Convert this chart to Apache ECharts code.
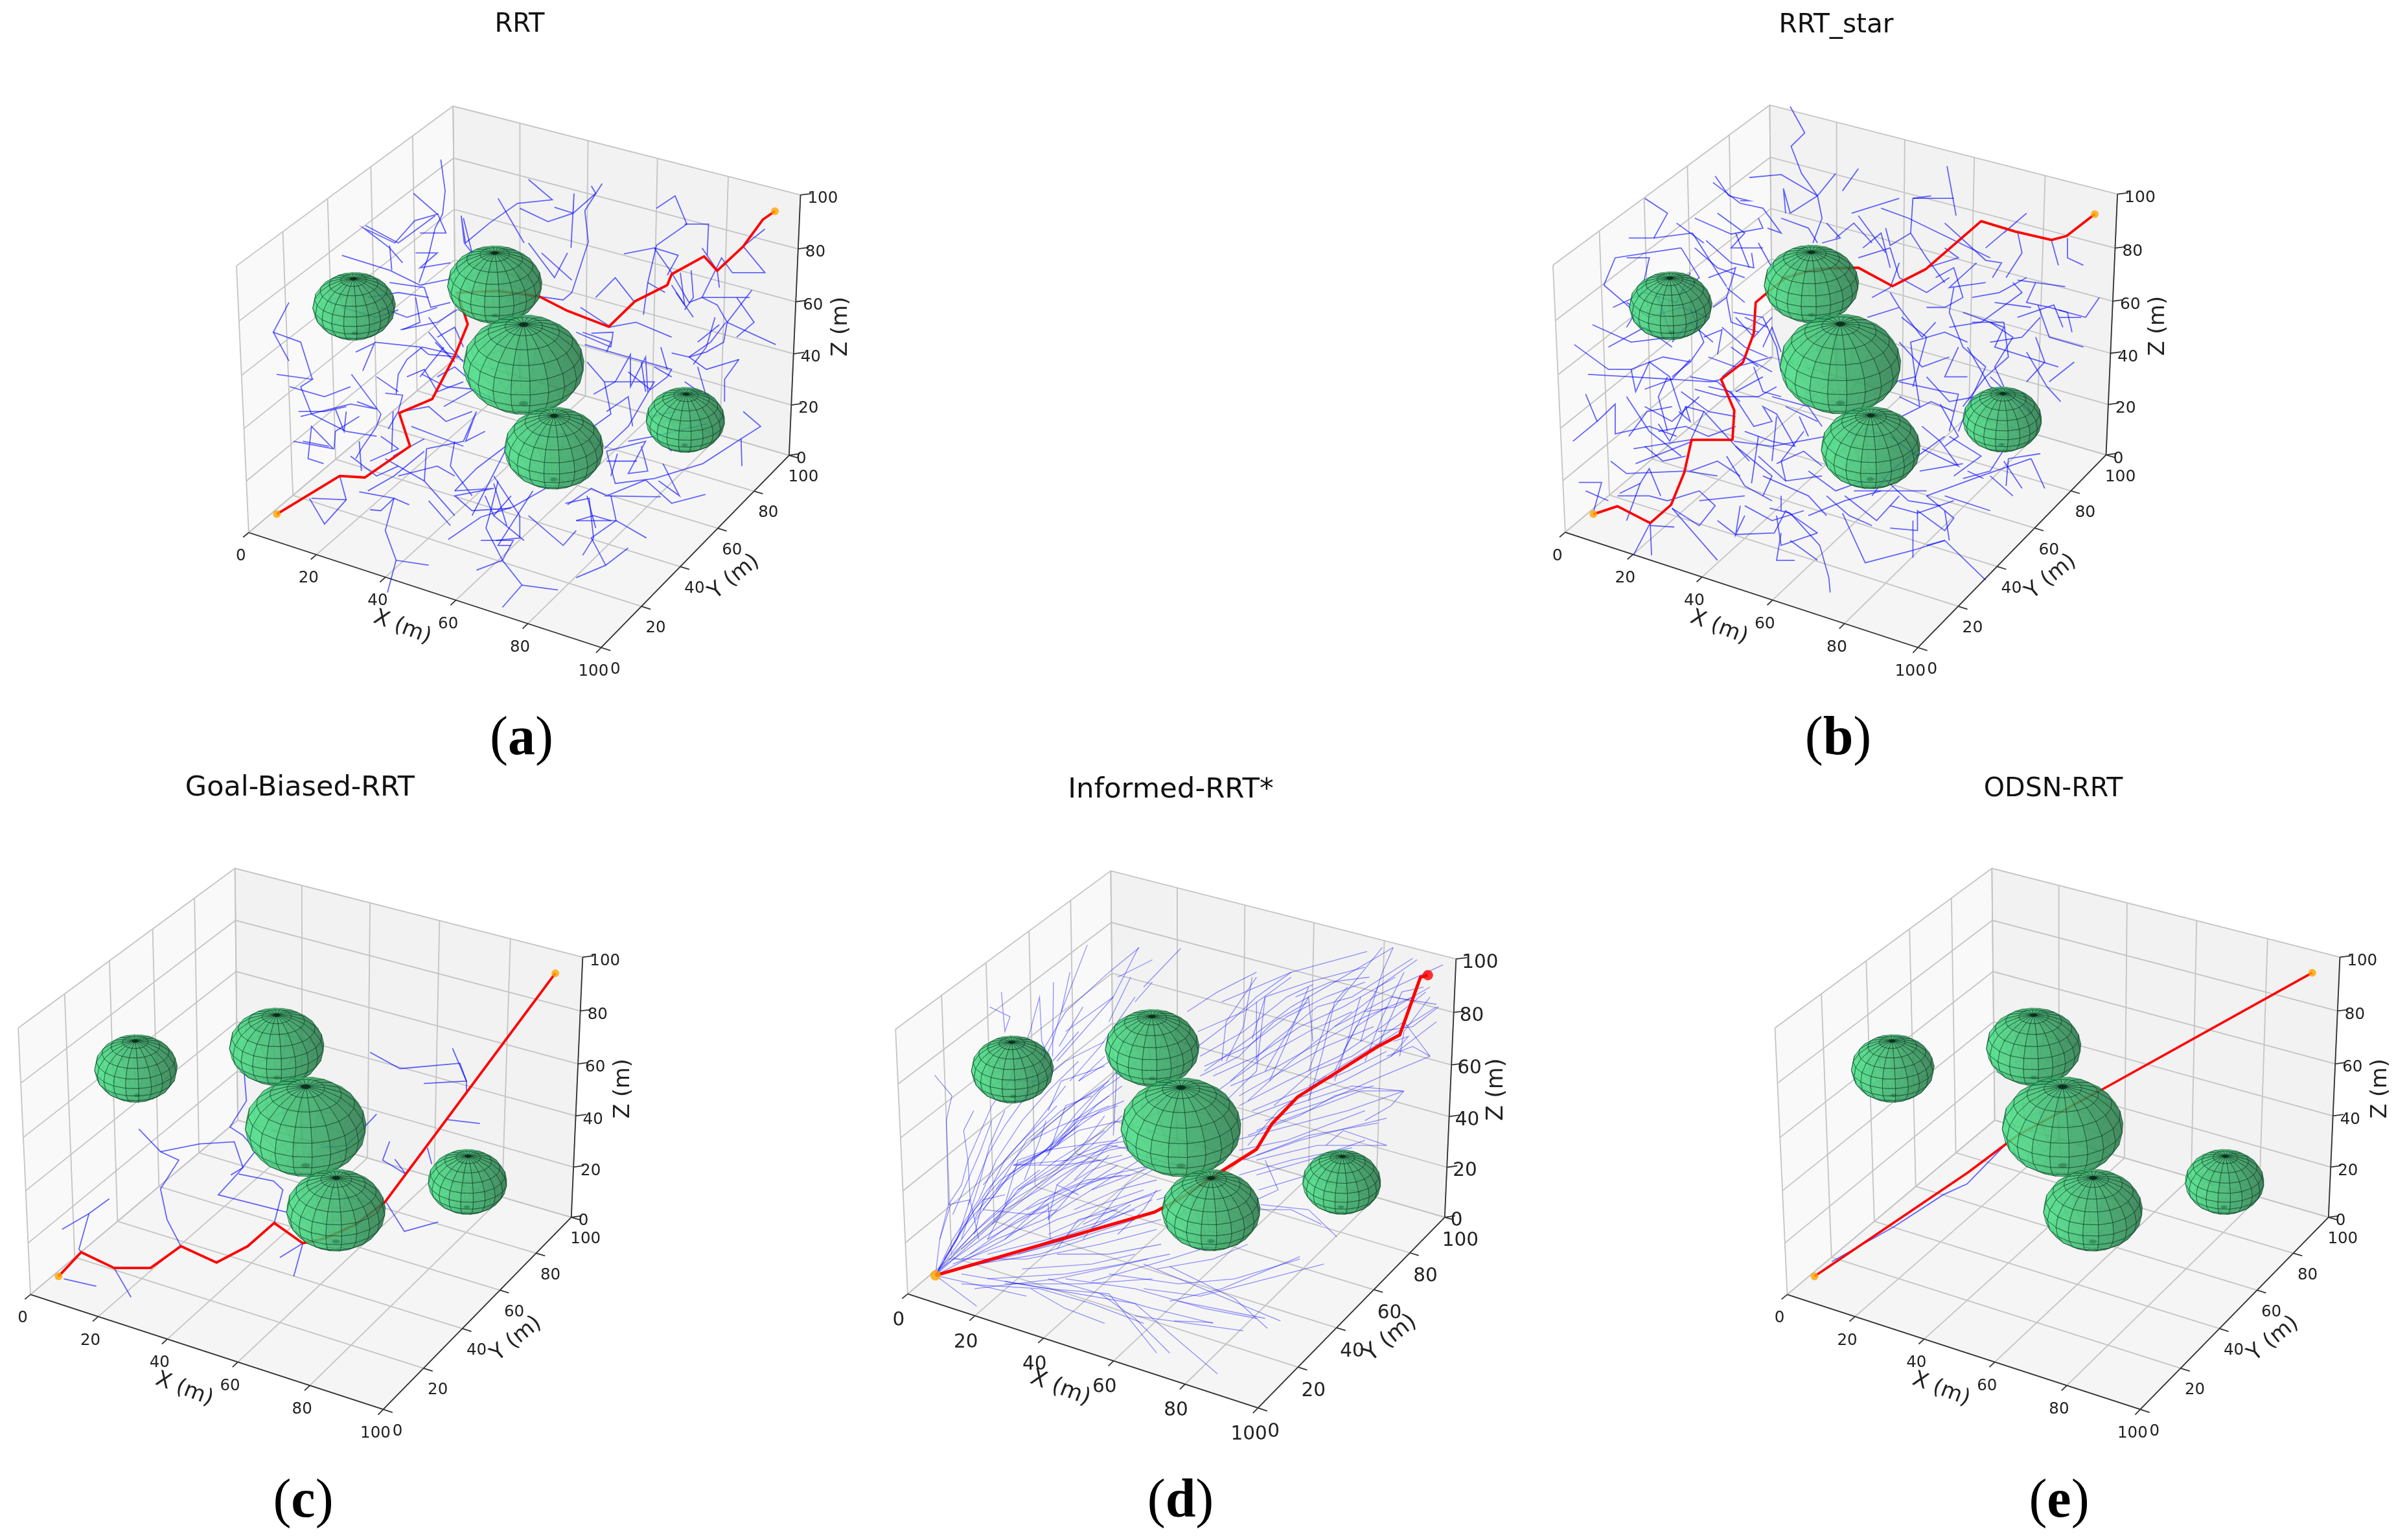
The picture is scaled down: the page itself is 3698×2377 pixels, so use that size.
<!DOCTYPE html>
<html><head><meta charset="utf-8"><style>html,body{margin:0;padding:0;background:#fff}#c{width:3698px;height:2377px;filter:blur(0.6px)}</style>
<script src="https://cdn.jsdelivr.net/npm/echarts@6/dist/echarts.min.js"></script></head><body><div id="c"></div>
<script>
// ---------- data ----------
const TICK_VALUES=[0,20,40,60,80,100];
const SPHERE_X=[50,30,70,20,80];
const SPHERE_Y=[50,70,30,20,80];
const SPHERE_Z=[50,60,40,80,20];
const SPHERE_R=[15,12,12,10,10];
const PATH_A=[[190,1037],[335,960],[393,963],[497,900],[472,833],[548,805],[600,718],[630,654],[610,600],[605,590],[700,587],[795,598],[860,627],[955,659],[1015,608],[1090,575],[1100,553],[1175,517],[1205,546],[1265,497],[1310,443],[1338,426]];
const PATH_B=[[227,1037],[280,1021],[352,1055],[398,1018],[427,953],[443,887],[533,887],[537,828],[508,765],[556,731],[580,672],[584,610],[610,590],[650,560],[720,542],[810,540],[885,577],[958,543],[1080,446],[1155,467],[1235,484],[1268,476],[1330,432]];
const PATH_C=[[135,1035],[187,986],[263,1018],[347,1018],[417,974],[499,1007],[571,974],[632,927],[698,968],[750,958],[820,930],[887,885],[1280,422]];
const PATH_D=[[140,1033],[645,905],[700,880],[800,822],[880,778],[915,727],[975,672],[1160,570],[1210,547],[1258,430],[1275,426]];
const PATH_E=[[158,1035],[530,825],[650,750],[860,655],[1365,421]];
const TREE_A=[[[568,322],[578,385],[572,432],[555,460],[540,515],[518,570]],[[505,390],[560,432],[508,445],[462,490],[390,460],[450,500],[480,530]],[[770,362],[825,403],[745,410],[680,450],[625,490],[615,435],[622,490],[640,510]],[[830,418],[873,430],[875,390],[868,500]],[[940,370],[900,425],[908,488],[870,590],[850,605],[795,598]],[[915,375],[925,390],[873,430],[815,447],[750,420]],[[1065,420],[1108,395],[1135,452],[1065,495],[1045,570],[1035,635]],[[990,512],[1060,500],[1100,550],[1140,610],[1170,600],[1280,600]],[[1130,452],[1185,452],[1182,515]],[[1060,500],[1115,515],[1090,555]],[[1315,462],[1265,497],[1315,550],[1240,550],[1215,520],[1170,600],[1205,615],[1228,650],[1340,695]],[[1285,585],[1228,650],[1220,690],[1180,710],[1140,720],[1100,712]],[[1145,545],[1150,600],[1130,625]],[[925,600],[970,560],[1015,610]],[[955,660],[1018,650],[1100,680]],[[960,700],[965,670],[915,672]],[[960,700],[880,670]],[[1255,725],[1222,765],[1222,810]],[[1140,720],[1180,745],[1255,725]],[[1225,650],[1190,690],[1140,720]],[[900,695],[1000,720],[1100,745],[1090,760],[1045,790],[1040,720],[1005,780],[1005,715],[970,770],[1060,770],[1000,860],[945,905]],[[1075,700],[1090,745]],[[970,770],[945,770],[960,835],[920,860]],[[945,770],[905,730]],[[1265,830],[1305,860],[1260,885],[1172,935],[1060,965],[970,975],[950,910],[970,975]],[[1260,885],[1262,940]],[[1030,900],[1045,950],[1000,955],[1040,890],[950,910]],[[1070,970],[1118,1000],[1080,935]],[[1178,997],[1100,1015],[1040,968]],[[1040,968],[950,1000],[1075,1002]],[[950,1000],[915,985],[860,1018]],[[855,1015],[910,1005],[920,1085],[895,1120]],[[960,1000],[972,1050],[880,1050]],[[972,1050],[1042,1085]],[[972,1050],[915,1085],[948,1140],[880,1165]],[[948,1140],[1000,1105]],[[905,1000],[925,1065]],[[700,970],[680,1040],[672,1065],[710,1130],[755,1180],[710,1225]],[[755,1180],[838,1190]],[[710,1130],[650,1150]],[[660,1090],[735,1090],[710,1130]],[[695,1090],[750,1085],[750,1040],[690,960]],[[585,1088],[660,1043],[735,1022],[810,985]],[[600,990],[650,945],[725,895],[640,1040]],[[600,990],[690,985],[600,1000],[640,1030],[730,1025]],[[535,905],[530,970],[600,1040]],[[535,905],[620,890],[650,830],[625,890],[670,870]],[[530,970],[440,925]],[[380,992],[460,1005],[430,1030],[405,1028]],[[460,1005],[495,1018]],[[460,1005],[440,1070],[465,1130],[540,1140]],[[465,1130],[445,1195]],[[335,960],[350,1008],[300,1057],[265,1005]],[[350,1008],[270,1005]],[[228,890],[320,905],[270,860],[262,925],[298,935]],[[322,905],[325,870],[380,840]],[[245,840],[360,815],[420,825],[375,810]],[[190,755],[272,765],[245,780],[270,835],[350,870],[420,880]],[[272,765],[245,690],[182,670],[218,610]],[[182,670],[218,728]],[[362,755],[430,835],[420,860]],[[420,860],[385,905],[372,925]],[[440,793],[480,797],[470,830],[447,865]],[[465,795],[470,755],[490,725],[525,700],[600,715]],[[372,710],[415,692],[388,748]],[[415,690],[520,700],[540,715],[610,720]],[[455,910],[458,830]],[[458,920],[530,885]],[[340,515],[450,545],[520,575],[605,560]],[[450,495],[455,545]],[[475,665],[560,650],[605,625]],[[540,670],[600,730],[555,690]],[[520,760],[575,700]],[[575,820],[645,785],[580,780],[525,755]],[[645,785],[690,805]],
[[395,455],[470,490],[555,435]],[[510,510],[560,510],[520,540],[590,530]],[[450,570],[530,580],[545,620],[590,610]],[[620,440],[640,510],[600,550]],[[510,600],[520,650],[480,665]],[[540,640],[590,700],[620,730]],[[560,680],[600,660],[620,700]],[[490,760],[530,745],[560,790],[620,770]],[[240,830],[300,830],[350,820]],[[325,825],[345,870],[350,830]],[[700,400],[760,490]],[[770,490],[830,560],[860,510]],[[800,510],[870,565]],[[890,620],[960,660]],[[895,670],[960,690],[950,710]],[[1100,575],[1130,615],[1120,550]],[[1170,500],[1205,545],[1210,580]],[[1045,570],[1085,590]],[[1110,590],[1150,640]],[[1200,640],[1180,700],[1150,735]],[[1210,655],[1160,690]],[[1060,740],[1100,760]],[[1000,750],[1050,785]],[[1030,730],[1040,790]],[[950,830],[1000,800],[1010,860]],[[920,795],[970,770]],[[1000,890],[1060,880],[1180,855]],[[1060,880],[1100,910]],[[950,930],[1020,930]],[[960,960],[975,915]],[[670,1000],[690,1040],[730,1000]],[[690,1040],[760,1090]],[[690,975],[720,1060]],[[780,990],[700,1100],[730,1100]],[[880,1050],[920,1040],[960,1050]],[[600,890],[590,940],[640,1000]],[[530,910],[460,960],[400,990]],[[405,930],[470,905],[430,880]],[[380,890],[385,950]],[[250,890],[310,900]],
[[430,620],[490,640],[560,620]],[[400,600],[470,590],[540,600]],[[520,470],[580,470],[560,430]],[[340,620],[420,640],[470,625]],[[560,760],[600,740],[640,770]],[[480,830],[540,820],[580,850],[640,830]],[[500,860],[560,880],[620,900]],[[420,760],[470,790]],[[220,780],[300,800],[360,780]],[[360,920],[420,960],[470,940]],[[470,960],[560,940],[600,960]],[[540,1010],[590,1060]],[[770,1040],[850,1100],[880,1070]],[[1130,770],[1180,800],[1160,740]],[[1250,600],[1290,650],[1250,680]],[[1050,840],[1110,830]]];
const TREE_B=[[[660,215],[692,268],[662,295],[685,350],[720,395],[760,350]],[[720,395],[660,430],[645,380],[650,430]],[[570,358],[640,352],[720,395]],[[720,395],[730,440],[710,490]],[[810,340],[775,385]],[[490,368],[550,410],[600,420],[640,470],[610,460]],[[495,355],[525,395],[570,405],[550,405]],[[450,440],[530,472],[600,460],[590,440]],[[340,400],[390,430],[360,480],[305,480]],[[360,480],[445,470],[520,578]],[[475,485],[530,530],[580,540],[575,510]],[[250,575],[275,520],[345,510],[420,500]],[[250,575],[320,630],[300,660]],[[270,620],[340,590],[410,610],[440,550]],[[225,655],[310,690],[400,680],[370,600]],[[185,695],[260,745],[310,745],[380,720],[440,730],[400,760]],[[215,755],[310,760],[400,765],[440,725]],[[310,745],[320,790],[350,730],[395,760],[420,830]],[[340,785],[400,765],[485,770],[510,765]],[[210,795],[235,850],[182,890]],[[235,850],[275,815],[275,875],[350,860],[410,880]],[[315,905],[440,887]],[[265,930],[300,955],[430,950],[500,960]],[[320,935],[445,890]],[[370,855],[395,890],[430,820],[470,830],[440,890]],[[415,830],[440,850],[430,820]],[[195,973],[245,973],[228,1030]],[[285,995],[330,975],[350,945],[375,1000]],[[280,1000],[350,1000],[390,1010],[460,990],[495,1020],[460,1060],[400,1025]],[[330,975],[300,1050]],[[352,1055],[315,1120]],[[352,1055],[355,1120]],[[352,1060],[405,1063]],[[400,1025],[500,1130]],[[500,1050],[540,1078],[625,1075],[650,1030],[720,1075]],[[550,1020],[540,1078],[560,1040]],[[615,1025],[660,1035],[725,1100],[745,1165],[748,1195]],[[640,1075],[630,1130],[670,1130]],[[630,1040],[640,1100],[720,1075]],[[775,1035],[825,1135],[930,1110],[1000,1090],[1090,1170]],[[880,1065],[940,1070],[940,1030],[1000,1070],[1020,1045],[960,1000]],[[930,1050],[930,1125]],[[960,1100],[1000,1090]],[[1000,1000],[1100,1030]],[[780,1000],[850,1050],[900,1000]],[[960,1000],[1080,960],[1190,925]],[[1210,915],[1140,925],[1135,980]],[[1190,925],[1220,985]],[[1130,930],[1170,985]],[[1050,950],[1085,965]],[[800,990],[870,990],[960,990]],[[950,905],[1030,940],[990,890],[950,860]],[[990,815],[1030,880],[1000,900]],[[880,880],[940,920],[1000,880]],[[900,770],[1000,790],[1030,795],[1010,870]],[[890,770],[935,760],[945,820],[900,800]],[[935,760],[925,690],[1000,670],[1050,690]],[[1020,580],[1010,630],[1040,700],[1090,740],[1060,800],[1030,870]],[[1040,630],[1130,660],[1110,700],[1180,720],[1250,740]],[[1130,650],[1140,720],[1090,760]],[[1060,650],[1130,650]],[[1150,570],[1170,590],[1080,650]],[[1230,620],[1270,630],[1280,670]],[[1205,615],[1230,680],[1305,700]],[[1340,600],[1310,640],[1250,625]],[[1180,710],[1225,780],[1255,810]],[[1285,730],[1230,770]],[[1160,565],[1265,578]],[[1100,760],[1190,835],[1170,790]],[[1000,450],[1090,525],[1125,530],[1105,560]],[[1005,335],[1015,385],[1025,435]],[[970,395],[930,400],[925,470],[960,520],[1000,570]],[[930,400],[1020,400]],[[925,470],[880,495],[870,460]],[[795,430],[900,400]],[[860,420],[920,440],[1100,520]],[[1130,470],[1180,430],[1090,500]],[[1270,480],[1270,520],[1305,535]],[[1235,485],[1250,535]],[[1160,467],[1170,510],[1135,560]],[[980,560],[1020,540],[1040,600],[1000,620],[960,620]],[[880,590],[900,620],[950,680],[980,650]],[[900,620],[830,640]],[[1080,650],[1010,660]],[[535,630],[600,640],[630,700],[640,750]],[[490,620],[520,600],[530,650],[590,670]],[[560,640],[610,660]],[[520,580],[560,610]],[[470,680],[510,665],[500,715]],[[450,785],[510,800],[590,800],[630,780]],[[480,780],[530,790],[580,860],[620,850],[600,820],[630,835],[670,900],[620,890],[560,870]],[[590,880],[575,975]],[[590,920],[650,970],[730,960]],[[620,930],[630,840]],[[630,935],[690,910],[730,940]],[[680,840],[700,880]],[[536,890],[620,900],[740,880]],[[510,760],[560,720],[620,750]],[[540,790],[600,760]],
[[300,610],[350,640],[420,620],[480,640]],[[260,700],[340,660],[400,700]],[[440,620],[470,690],[440,730]],[[390,760],[370,800],[390,870]],[[305,880],[345,830],[400,820]],[[370,870],[430,860],[480,880],[540,860]],[[440,760],[500,770],[550,810]],[[470,830],[520,880],[570,930]],[[540,900],[580,930],[620,960],[600,1000]],[[600,960],[700,1000],[740,1040]],[[640,1000],[640,1030]],[[740,1000],[790,1040],[840,1060]],[[700,1040],[780,1010],[860,990]],[[660,1090],[720,1130]],[[840,1000],[880,950],[945,905]],[[945,950],[1040,935]],[[1020,1010],[940,1035],[880,1020]],[[1000,1030],[1010,1090]],[[1100,960],[1150,1000]],[[1135,900],[1100,950],[1040,965]],[[1010,880],[1080,920],[1020,960]],[[905,640],[960,680],[930,780]],[[900,690],[950,740],[1010,720]],[[905,840],[970,810],[1020,830]],[[1030,700],[1000,760],[1050,760]],[[1100,650],[1150,680],[1110,740],[1130,780]],[[1200,680],[1220,730],[1180,770]],[[1090,760],[1040,820]],[[1070,530],[1010,580],[1090,570]],[[820,500],[860,470],[880,540]],[[810,520],[880,500],[900,560]],[[840,600],[880,580],[900,530]],[[960,540],[1030,520],[1000,500]],[[1160,640],[1240,615],[1260,660]],[[1250,640],[1300,640]],[[1110,610],[1190,620]],[[1200,570],[1180,610],[1230,620]],[[500,430],[560,470],[530,500],[600,500]],[[540,470],[570,540]],[[410,450],[470,490]],[[620,540],[590,490]],[[480,560],[540,540],[520,600]],[[300,520],[350,520],[330,600]],[[420,500],[460,560],[420,590]],[[740,450],[770,480],[730,490]],[[640,440],[700,460],[720,490]],[[810,435],[870,510]],[[510,660],[560,700],[610,720]],[[530,700],[590,740]],[[400,690],[440,650],[490,690]],[[600,700],[620,660],[640,710]],[[580,740],[600,790],[640,800]],[[650,820],[720,850]],[[690,870],[640,930],[650,970]],[[440,950],[500,930],[550,960]],[[460,1010],[560,1000]],[[210,990],[260,1010]],
[[540,640],[580,680],[620,640]],[[480,720],[540,740],[620,720]],[[420,790],[480,830],[540,840]],[[340,820],[400,850],[460,800]],[[300,800],[350,870],[420,920]],[[520,920],[560,980],[620,1010]],[[700,950],[760,990],[820,970]],[[860,960],[920,1010],[990,1020]],[[1050,700],[1100,780],[1150,800]],[[960,760],[1010,810],[1070,800]],[[900,560],[960,590],[1010,560]],[[1100,690],[1170,680],[1210,640]],[[1060,600],[1120,590],[1180,560]],[[760,480],[800,450],[840,490]],[[450,500],[500,540],[560,560]],[[620,800],[700,820],[730,860]],[[340,900],[380,930],[430,920]],[[560,1020],[620,1050],[690,1030]]];
const TREE_C=[[[147,1040],[222,1055]],[[252,878],[205,908],[143,940]],[[205,908],[182,980],[187,986]],[[263,1018],[302,1077]],[[320,737],[370,783],[412,800],[370,858],[385,920],[417,974]],[[370,783],[460,767],[540,763],[560,815],[532,830]],[[563,625],[568,680],[530,733],[560,750],[590,780],[550,825],[503,870],[660,905]],[[550,828],[630,842],[652,860],[632,927]],[[645,997],[698,968],[677,1035]],[[853,582],[922,615],[1060,604],[1075,640],[977,645]],[[1043,574],[1075,640],[1075,660]],[[1030,718],[1106,726]],[[898,762],[882,800],[935,828]],[[910,798],[935,828]],[[868,707],[800,770],[740,775]],[[985,775],[995,808]],[[890,885],[932,944],[1010,925]]];
const TREE_D=[[[140,1033],[150,960],[170,890],[165,720],[178,670],[138,628]],[[140,1033],[190,960],[220,880],[215,800],[205,740],[228,700]],[[170,890],[200,850],[215,800],[270,690],[310,640],[358,540],[380,470],[385,560]],[[292,460],[300,540],[312,510],[265,490]],[[215,890],[260,790],[300,730],[365,650],[410,560],[430,500],[490,365]],[[410,590],[412,440]],[[385,560],[400,590]],[[430,500],[450,420]],[[380,590],[440,500],[540,420],[610,370]],[[440,540],[550,470],[608,370]],[[560,430],[640,395]],[[620,450],[705,372]],[[140,1033],[250,900],[330,810],[420,770],[520,660],[600,610]],[[250,900],[310,830],[395,780],[470,700],[560,620]],[[140,1033],[270,930],[400,840],[500,770],[570,710]],[[270,930],[330,860],[420,800],[530,740]],[[140,1033],[300,960],[430,880],[560,810]],[[300,960],[410,870],[500,820],[600,790]],[[200,1000],[280,960],[390,920],[500,860],[610,800]],[[400,920],[480,840],[540,790]],[[320,810],[450,800],[560,770]],[[330,990],[480,950],[590,890]],[[380,970],[520,930],[640,880]],[[260,960],[400,890],[405,960]],[[170,1000],[350,1000],[520,970],[650,940]],[[420,990],[540,990],[660,970]],[[200,1030],[400,1060],[540,1070],[650,1190]],[[140,1033],[350,1075]],[[140,1033],[235,1095]],[[300,1045],[600,1090],[790,1232]],[[400,1040],[640,1100],[780,1130]],[[600,1115],[850,1145]],[[680,1015],[830,1080],[905,1140]],[[620,1010],[935,1125]],[[980,995],[800,1060],[680,1085]],[[1035,1010],[750,1075],[620,1060]],[[690,1125],[780,1128]],[[500,1045],[680,1000],[790,970]],[[230,1060],[420,1040],[630,1000]],[[720,500],[790,460],[880,420]],[[800,480],[960,420],[1135,378]],[[870,555],[900,470],[1000,440],[1130,410]],[[745,540],[850,500],[960,430]],[[760,620],[870,550],[960,490],[1060,440],[1195,370]],[[820,640],[920,560],[1020,490],[1100,470],[1240,392]],[[860,680],[960,600],[1060,530],[1150,470],[1310,405]],[[1060,530],[1190,470],[1295,485]],[[920,690],[1010,620],[1100,590],[1220,520],[1280,590]],[[1000,650],[1170,560],[1295,490]],[[960,690],[1100,650],[1215,660]],[[900,720],[1040,680],[1170,630],[1280,590]],[[830,760],[960,730],[1090,700],[1220,660]],[[880,790],[1000,750],[1160,725]],[[880,800],[1020,770],[1180,770]],[[840,830],[960,800],[1100,775]],[[880,880],[930,860],[900,800]],[[890,890],[1000,900],[1065,955]],[[800,600],[810,520],[880,430]],[[810,680],[880,620],[900,470]],[[900,620],[1000,470],[1010,560]],[[1000,620],[1050,500],[1170,370]],[[1120,560],[1170,420],[1195,370]],[[1160,570],[1215,460],[1265,450]],[[1080,580],[1160,450],[1250,395]],[[1190,590],[1230,550],[1195,560]],[[1280,470],[1220,540],[1210,590]],[[470,640],[560,590],[550,750]],[[300,640],[385,640],[440,600],[530,560]],[[360,760],[430,730],[540,690]],[[395,785],[470,740],[570,720]],[[320,810],[400,780],[470,730]],[[250,850],[330,770],[420,690]],[[260,960],[320,860],[380,820]],[[180,910],[240,790],[270,720]],[[150,960],[175,890]],[[230,950],[250,880],[300,870]],[[250,900],[360,910],[420,900]],[[400,920],[420,850],[470,870]],[[420,980],[470,920],[560,900]],[[480,960],[580,850],[640,820]],[[560,950],[620,900],[650,860]],[[650,880],[760,850]],[[860,770],[930,700],[1040,630]],[[1060,620],[1110,530],[1180,490]],
[[140,1033],[180,960],[240,880],[280,800],[340,720],[400,660],[470,600]],[[140,1033],[200,940],[260,860],[340,780],[400,730],[470,680],[540,640]],[[160,1000],[230,900],[290,840],[360,800],[440,750],[520,700],[575,680]],[[180,990],[260,920],[350,850],[440,800],[520,770],[590,760]],[[200,980],[300,900],[380,860],[470,810],[570,790]],[[220,990],[330,920],[440,870],[540,830],[640,810]],[[180,1010],[300,970],[420,920],[520,890],[620,860]],[[200,1020],[330,990],[460,960],[600,920]],[[240,1010],[380,990],[520,950],[660,920]],[[260,990],[400,960],[500,930],[600,900]],[[300,890],[330,800],[395,780]],[[345,840],[380,760],[395,720]],[[400,790],[440,690],[500,670]],[[420,770],[510,690],[570,650]],[[330,860],[420,820],[480,770],[530,710]],[[460,840],[540,770],[600,780]],[[395,780],[470,770],[560,760]],[[320,810],[430,810],[520,800]],[[500,860],[620,820],[660,800]],[[580,780],[650,800],[700,810]],[[240,960],[220,880],[170,890]],[[400,700],[430,640],[530,610]],[[450,640],[520,570],[600,470]],[[420,600],[500,520],[550,470]],[[470,640],[530,590]],[[540,520],[590,430]],[[600,480],[640,440]],[[410,600],[470,540]],[[425,570],[480,490]],[[745,570],[820,520],[880,470],[960,420]],[[750,590],[850,540],[950,470],[1010,445]],[[760,610],[860,570],[950,510],[1040,470],[1130,440]],[[780,630],[880,590],[980,530],[1080,490],[1200,430]],[[820,650],[930,610],[1030,560],[1130,510],[1240,470]],[[840,690],[950,640],[1070,590],[1170,530],[1270,460]],[[840,720],[960,680],[1080,640],[1190,590],[1295,520]],[[880,740],[1000,700],[1120,660],[1218,660]],[[850,800],[980,760],[1110,730],[1180,715]],[[880,830],[1000,800],[1130,760]],[[885,860],[1000,830]],[[880,600],[880,480]],[[810,600],[850,530],[870,430]],[[910,640],[950,560],[1000,450]],[[1000,680],[1030,590],[1060,480],[1090,450]],[[1060,640],[1090,560],[1120,470]],[[1130,600],[1170,510],[1220,420]],[[970,470],[1050,440],[1140,430]],[[1130,500],[1200,490],[1280,450]],[[1160,540],[1240,530],[1300,490]],[[1180,590],[1240,570],[1280,590]],[[1130,720],[1190,690],[1220,660]],[[1040,770],[1080,740],[1180,770]],[[300,1050],[480,1050],[640,1040]],[[200,1050],[380,1060],[500,1090],[620,1130]],[[260,1040],[440,1030],[570,1010],[680,990]],[[340,1020],[500,1010],[600,990]],[[440,1040],[600,1060],[760,1100],[880,1120]],[[540,1030],[700,1050],[830,1040],[980,1000]],[[520,1070],[600,1120],[680,1190]],[[360,1060],[440,1100],[530,1130]],[[650,1020],[780,1000],[860,970]],[[700,1085],[900,1120]],[[880,900],[960,900],[1030,930]],
[[140,1033],[210,930],[290,850],[380,790],[470,720],[560,690]],[[140,1033],[230,945],[320,880],[430,820],[540,780],[600,770]],[[150,1020],[270,945],[380,880],[490,840],[590,830]],[[230,920],[300,800],[360,740],[440,650]],[[280,860],[350,760],[430,700],[530,650]],[[200,960],[240,850],[265,770],[300,700]],[[380,810],[460,720],[540,670]],[[420,850],[500,790],[590,740]],[[350,900],[470,850],[570,830]],[[460,900],[560,860],[650,840]],[[400,950],[530,900],[640,870]],[[480,930],[600,880],[660,860]],[[750,630],[840,590],[920,520],[1000,480]],[[790,660],[900,590],[1000,540],[1100,500]],[[840,670],[940,620],[1040,570],[1150,530]],[[870,700],[980,660],[1090,620],[1180,580]],[[860,750],[980,710],[1060,670],[1150,650]],[[840,780],[950,760],[1040,730],[1130,700]]];
const TREE_E=[[[200,1005],[350,935],[470,870],[528,848],[590,795],[625,765]]];

const PANELS=[
 {name:'RRT',cap:'a',crop:[300,0,1050,1200],O:[125,1072],A:[940,1306],FR:[1377,915],TR:[1397,392],BT:[600,214],LT:[97,535],tick:24.5,titleX:797,titleY:38,titleFont:40,capX:800,capY:1140,path:PATH_A,tree:TREE_A,tw:1.8,ta:0.6,pw:3.8,ms:12,goal:'#ffa500'},
 {name:'RRT_star',cap:'b',crop:[2300,0,1100,1200],O:[163,1072],A:[943,1306],FR:[1360,915],TR:[1380,392],BT:[618,212],LT:[138,535],tick:25,titleX:2829,titleY:38,titleFont:40.5,capX:2832,capY:1140,path:PATH_B,tree:TREE_B,tw:1.8,ta:0.6,pw:3.8,ms:12,goal:'#ffa500'},
 {name:'Goal-Biased-RRT',cap:'c',crop:[0,1180,1050,1197],O:[68,1070],A:[885,1304],FR:[1320,912],TR:[1343,390],BT:[545,210],LT:[42,530],tick:24.5,titleX:458,titleY:1216,titleFont:43,capX:463,capY:2317,path:PATH_C,tree:TREE_C,tw:1.8,ta:0.6,pw:3.8,ms:12,goal:'#ffa500'},
 {name:'Informed-RRT*',cap:'d',crop:[1350,1180,1050,1197],O:[75,1068],A:[882,1301],FR:[1312,912],TR:[1340,392],BT:[545,215],LT:[48,533],tick:29.5,titleX:1802,titleY:1219,titleFont:43.5,capX:1817,capY:2317,path:PATH_D,tree:TREE_D,tw:1.3,ta:0.42,pw:5,ms:16,goal:'#ff0000',big:true},
 {name:'ODSN-RRT',cap:'e',crop:[2700,1180,998,1197],O:[90,1070],A:[945,1304],FR:[1405,912],TR:[1432,390],BT:[590,210],LT:[62,530],tick:24.5,titleX:3164,titleY:1217,titleFont:41,capX:3173,capY:2317,path:PATH_E,tree:TREE_E,tw:1.8,ta:0.6,pw:3.6,ms:12,goal:'#ffa500'}
];
const PLANE=1568;
const FONT='"DejaVu Sans"';

// ---------- view geometry (elev 30, azim -60, dist 10, box 4:4:3) ----------
const BOX=[1.14287,1.14287,0.85716];
function camera(x,y,z){
  const a=(x/100-.5)*BOX[0],b=(y/100-.5)*BOX[1],c=(z/100-.5)*BOX[2];
  const xv=.8660254*a+.5*b, yv=-.25*a+.4330127*b+.8660254*c, w=.4330127*a-.75*b+.5*c;
  return [xv/(10-w),yv/(10-w),w];
}
function mapper(p){
  const lt=camera(0,0,100),tr=camera(100,100,100),a=camera(100,0,0),bt=camera(0,100,100);
  const ax=(p.TR[0]-p.LT[0])/(tr[0]-lt[0]),bx=p.LT[0]-ax*lt[0];
  const ay=(p.A[1]-p.BT[1])/(a[1]-bt[1]),by=p.BT[1]-ay*bt[1];
  return (x,y,z)=>{const c=camera(x,y,z);return [ax*c[0]+bx,ay*c[1]+by];};
}
// ---------- sphere mesh ----------
const LON=20, LAT=[0,4.3,18,36,54,72,90,108,126,144,162,175.7,180];
function sphereFaces(toPlot){
  const order=SPHERE_X.map((_,i)=>i).sort((i,j)=>camera(SPHERE_X[i],SPHERE_Y[i],SPHERE_Z[i])[2]-camera(SPHERE_X[j],SPHERE_Y[j],SPHERE_Z[j])[2]);
  const faces=[];
  order.forEach(s=>{
    const list=[];
    const P=(t,f)=>{const T=t*Math.PI/180,F=f*2*Math.PI/LON;return [Math.sin(T)*Math.cos(F),Math.sin(T)*Math.sin(F),Math.cos(T)];};
    for(let i=0;i<LAT.length-1;i++)for(let j=0;j<LON;j++){
      const q=[P(LAT[i],j),P(LAT[i],j+1),P(LAT[i+1],j+1),P(LAT[i+1],j)];
      const n=[0,1,2].map(k=>q.reduce((m,v)=>m+v[k],0)/4);
      const l=Math.hypot(n[0],n[1],n[2]);
      const dot=(-.7*n[0]-.7*n[1]+.1*n[2])/l;
      const k=.5+.5*(dot+1)/2;
      const cap=(i===0||i===LAT.length-2);
      const pts=q.map(v=>toPlot(SPHERE_X[s]+SPHERE_R[s]*v[0],SPHERE_Y[s]+SPHERE_R[s]*v[1],SPHERE_Z[s]+SPHERE_R[s]*v[2]));
      const front=(.4330127*n[0]*BOX[0]-.75*n[1]*BOX[1]+.5*n[2]*BOX[2])>0;
      const w=camera(SPHERE_X[s]+SPHERE_R[s]*n[0],SPHERE_Y[s]+SPHERE_R[s]*n[1],SPHERE_Z[s]+SPHERE_R[s]*n[2])[2];
      list.push({pts,w,stroke:front?'rgba(10,50,32,0.5)':'rgba(10,70,45,0.14)',
        fill:cap?'rgba(8,30,20,0.85)':`rgba(${Math.round(72*k)},${Math.round(228*k)},${Math.round(135*k)},0.62)`});
    }
    list.sort((a,b)=>a.w-b.w);
    faces.push(...list);
  });
  return faces;
}
// ---------- options ----------
const opt={animation:false,backgroundColor:'#fff',title:[],grid:[],xAxis:[],yAxis:[],series:[]};
function customOver(g,n,render,z){return {type:'custom',xAxisIndex:g,yAxisIndex:g,silent:true,clip:false,z,
  data:Array.from({length:n},()=>[0,0]),encode:{x:0,y:1},renderItem:render};}
PANELS.forEach((p,g)=>{
  const toPlot=mapper(p);
  opt.grid.push({left:p.crop[0],top:p.crop[1],width:p.crop[2],height:p.crop[3],containLabel:false,show:false});
  opt.xAxis.push({type:'value',gridIndex:g,min:0,max:PLANE,show:false});
  opt.yAxis.push({type:'value',gridIndex:g,min:0,max:PLANE,inverse:true,show:false});
  opt.title.push({text:p.name,left:p.titleX,top:p.titleY-p.titleFont*.6,textAlign:'center',textStyle:{fontFamily:FONT,fontWeight:'normal',fontSize:p.titleFont,color:'#111'}});
  opt.title.push({text:'{n|(}{b|'+p.cap+'}{n|)}',left:p.capX,top:p.capY-45,textAlign:'center',
    textStyle:{rich:{n:{fontFamily:'"Liberation Serif"',fontSize:84,color:'#000',fontWeight:'normal'},b:{fontFamily:'"Liberation Serif"',fontSize:84,fontWeight:'bold',color:'#000'}}}});
  // panes
  const panes=[{c:'#f9f9f9',q:[[0,0,0],[0,100,0],[0,100,100],[0,0,100]]},{c:'#f2f2f2',q:[[0,100,0],[100,100,0],[100,100,100],[0,100,100]]},{c:'#f5f5f5',q:[[0,0,0],[100,0,0],[100,100,0],[0,100,0]]}];
  opt.series.push(customOver(g,panes.length,(params,api)=>{const f=panes[params.dataIndex];
    return {type:'polygon',shape:{points:f.q.map(v=>api.coord(toPlot(v[0],v[1],v[2])))},style:{fill:f.c}};},1));
  // gridlines
  const gl=[];
  TICK_VALUES.forEach(t=>{gl.push([[t,0,0],[t,100,0],[t,100,100]]);gl.push([[0,t,100],[0,t,0],[100,t,0]]);gl.push([[0,0,t],[0,100,t],[100,100,t]]);});
  opt.series.push(customOver(g,gl.length,(params,api)=>({type:'polyline',shape:{points:gl[params.dataIndex].map(v=>api.coord(toPlot(v[0],v[1],v[2])))},style:{stroke:'#c4c4c4',lineWidth:1.8,fill:null}}),2));
  // axes and ticks
  const al=[[[0,0,0],[100,0,0]],[[100,0,0],[100,100,0]],[[100,100,0],[100,100,100]]];
  TICK_VALUES.forEach(t=>{al.push([[t,0,0],[t,-2.5,0]]);al.push([[100,t,0],[102.5,t,0]]);al.push([[100,100,t],[102,102,t]]);});
  opt.series.push(customOver(g,al.length,(params,api)=>({type:'polyline',shape:{points:al[params.dataIndex].map(v=>api.coord(toPlot(v[0],v[1],v[2])))},style:{stroke:'#333',lineWidth:1.8,fill:null}}),3));
  // tick labels and axis names
  const txt=[];
  const off=p.big?{x:[-14,41],y:[24,37],z:[9,6]}:{x:[-12,37],y:[22,34],z:[11,6]};
  TICK_VALUES.forEach(t=>{
    txt.push({s:String(t),at:[t,0,0],o:off.x,a:'center',f:p.tick});
    txt.push({s:String(t),at:[100,t,0],o:off.y,a:'center',f:p.tick});
    txt.push({s:String(t),at:[100,100,t],o:off.z,a:'left',f:p.tick});
  });
  const nameFont=p.big?35:33.5;
  txt.push({s:'X (m)',at:[50,0,0],o:[-28,60],a:'center',f:nameFont,r:-21});
  txt.push({s:'Y (m)',at:[100,50,0],o:[54,46],a:'center',f:nameFont,r:39});
  txt.push({s:'Z (m)',at:[100,100,50],o:[72,-2],a:'center',f:nameFont,r:90});
  opt.series.push(customOver(g,txt.length,(params,api)=>{const d=txt[params.dataIndex],c=api.coord(toPlot(d.at[0],d.at[1],d.at[2]));
    return {type:'text',x:c[0]+d.o[0],y:c[1]+d.o[1],rotation:(d.r||0)*Math.PI/180,
      style:{text:d.s,fontFamily:'DejaVu Sans',fontSize:d.f,fill:'#222',align:d.a,verticalAlign:'middle'}};},9));
  // tree edges
  opt.series.push(customOver(g,p.tree.length,(params,api)=>({type:'polyline',shape:{points:p.tree[params.dataIndex].map(v=>api.coord(v))},style:{stroke:'rgba(0,0,255,'+p.ta+')',lineWidth:p.tw,fill:null}}),4));
  // best path
  opt.series.push({type:'line',xAxisIndex:g,yAxisIndex:g,data:p.path,showSymbol:false,smooth:false,silent:true,z:5,clip:false,lineStyle:{color:'#ff0000',width:p.pw,join:'round'}});
  const last=p.path[p.path.length-1];
  opt.series.push({type:'scatter',xAxisIndex:g,yAxisIndex:g,data:[p.path[0]],symbolSize:p.ms,silent:true,z:6,itemStyle:{color:'#ffa500'}});
  opt.series.push({type:'scatter',xAxisIndex:g,yAxisIndex:g,data:[last],symbolSize:p.ms,silent:true,z:6,itemStyle:{color:p.goal}});
  // obstacles
  const faces=sphereFaces(toPlot);
  opt.series.push(customOver(g,faces.length,(params,api)=>{const f=faces[params.dataIndex];
    return {type:'polygon',shape:{points:f.pts.map(v=>api.coord(v))},style:{fill:f.fill,stroke:f.stroke,lineWidth:1}};},7));
});
const chart=echarts.init(document.getElementById('c'),null,{renderer:'canvas',width:3698,height:2377});
chart.setOption(opt);
</script></body></html>
